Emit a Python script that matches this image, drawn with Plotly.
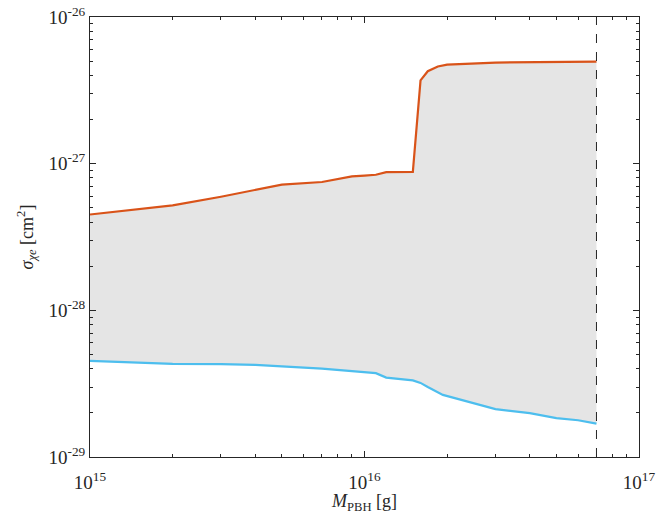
import plotly.graph_objects as go

# Upper bound (orange)
mass_up = [1e15, 2e15, 3e15, 4e15, 5e15, 7e15, 8e15, 9e15, 1e16, 1.1e16, 1.2e16, 1.5e16,
           1.6e16, 1.7e16, 1.85e16, 2e16, 3e16, 7e16]
sigma_up = [4.5e-28, 5.2e-28, 5.95e-28, 6.65e-28, 7.2e-28, 7.5e-28, 7.9e-28, 8.2e-28, 8.3e-28,
            8.4e-28, 8.75e-28, 8.8e-28, 3.7e-27, 4.27e-27, 4.6e-27, 4.74e-27, 4.89e-27, 4.96e-27]

# Lower bound (blue)
mass_lo = [1e15, 2e15, 3e15, 4e15, 5e15, 5.8e15, 7e15, 1.1e16, 1.2e16, 1.5e16, 1.6e16, 1.7e16,
           1.8e16, 1.93e16, 3e16, 4e16, 5e16, 6e16, 7e16]
sigma_lo = [4.52e-29, 4.32e-29, 4.3e-29, 4.25e-29, 4.15e-29, 4.07e-29, 4.01e-29, 3.73e-29, 3.48e-29,
            3.33e-29, 3.2e-29, 3.0e-29, 2.85e-29, 2.65e-29, 2.12e-29, 1.99e-29, 1.84e-29, 1.78e-29, 1.69e-29]

# Vertical cutoff
mass_cut = 7e16
y_range = [1e-29, 1e-26]

x_tickvals = [1e15, 1e16, 1e17]
x_ticktext = ["10<sup>15</sup>", "10<sup>16</sup>", "10<sup>17</sup>"]
y_tickvals = [1e-29, 1e-28, 1e-27, 1e-26]
y_ticktext = ["10<sup>-29</sup>", "10<sup>-28</sup>", "10<sup>-27</sup>", "10<sup>-26</sup>"]

x_minor = [m * 10**e for e in (15, 16) for m in range(2, 10)]
y_minor = [m * 10.0**e for e in (-29, -28, -27) for m in range(2, 10)]

fig = go.Figure()

fig.add_trace(go.Scatter(
    x=mass_up + mass_lo[::-1], y=sigma_up + sigma_lo[::-1],
    fill="toself", fillcolor="#e5e5e5", line=dict(width=0), mode="lines",
    hoverinfo="skip", showlegend=False))

fig.add_trace(go.Scatter(x=mass_up, y=sigma_up, mode="lines",
                         line=dict(color="#D95319", width=2.2), showlegend=False))
fig.add_trace(go.Scatter(x=mass_lo, y=sigma_lo, mode="lines",
                         line=dict(color="#4DBEEE", width=2.2), showlegend=False))
fig.add_trace(go.Scatter(x=[mass_cut, mass_cut], y=y_range, mode="lines",
                         line=dict(color="#262626", width=1, dash="dash"), showlegend=False))

font_family = "Liberation Serif, Times New Roman, serif"
axis_common = dict(
    showgrid=False, zeroline=False, showline=True, linecolor="#262626", linewidth=1,
    mirror="ticks", ticks="inside", ticklen=6, tickcolor="#262626", tickwidth=1,
    tickfont=dict(family=font_family, size=19, color="#262626"),
    automargin=False, ticklabeloverflow="allow",
)

fig.update_xaxes(type="log", range=[15, 17], tickmode="array", tickvals=x_tickvals,
                 ticktext=x_ticktext, ticklabelstandoff=8,
                 minor=dict(tickmode="array", tickvals=x_minor, ticks="inside", ticklen=3,
                            tickcolor="#262626"),
                 title=dict(text="<i>M</i><sub>PBH</sub> [g]",
                            font=dict(family=font_family, size=18, color="#262626"), standoff=4),
                 **axis_common)
fig.update_yaxes(type="log", range=[-29, -26], tickmode="array", tickvals=y_tickvals,
                 ticktext=y_ticktext,
                 minor=dict(tickmode="array", tickvals=y_minor, ticks="inside", ticklen=3,
                            tickcolor="#262626"),
                 title=dict(text="<i>σ</i><sub><i>χe</i></sub> [cm<sup>2</sup>]",
                            font=dict(family=font_family, size=18, color="#262626"), standoff=10),
                 **axis_common)

fig.update_layout(
    template="none",
    width=667, height=514,
    margin=dict(l=90, r=28, t=17, b=57, pad=0),
    plot_bgcolor="white", paper_bgcolor="white",
    font=dict(family=font_family, color="#262626"),
)

# remove the browser's default 8px body margin so the figure fills the window
fig.write_html("out.html", config={"displayModeBar": False},
               post_script="document.body.style.margin='0';document.body.style.overflow='hidden';")
